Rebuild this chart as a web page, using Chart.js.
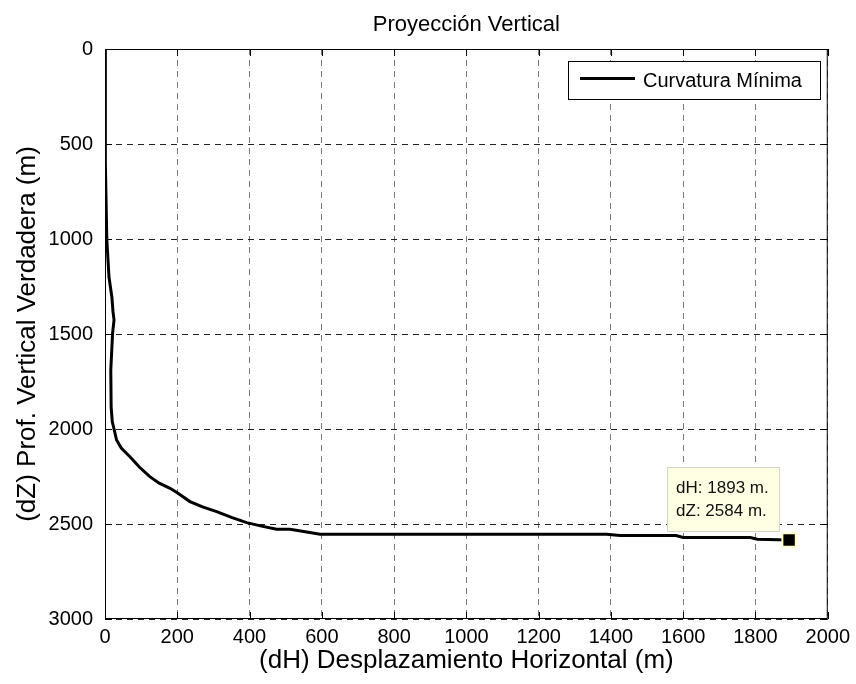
<!DOCTYPE html>
<html lang="es">
<head>
    <meta charset="UTF-8">
    <title>Proyección Vertical</title>
    <script src="https://cdn.jsdelivr.net/npm/chart.js"></script>
    <style>
        html, body { margin: 0; padding: 0; background: #fff; }
        #wrap { width: 856px; height: 684px; position: relative; }
    </style>
</head>
<body>
    <div id="wrap"><canvas id="trayectoria"></canvas></div>

    <script>
        // Datos: desplazamiento horizontal (dH) y profundidad (dZ), en metros
        const dH = [0, 0, 2, 5, 8, 11, 19, 22, 25, 21, 16, 17, 20, 25, 32, 45, 69, 95, 124, 150, 180, 200, 235, 270, 309, 350, 392, 430, 475, 512, 550, 595, 1000, 1388, 1425, 1580, 1600, 1786, 1805, 1893];
        const dZ = [0, 250, 600, 1000, 1100, 1200, 1305, 1380, 1426, 1495, 1690, 1884, 1960, 2000, 2058, 2100, 2146, 2200, 2251, 2285, 2312, 2335, 2382, 2410, 2435, 2465, 2493, 2510, 2528, 2528, 2540, 2554, 2554, 2554, 2561, 2561, 2571, 2571, 2580, 2584];
        const puntoFinal = [1893, 2584];
        const xTicks = [0, 200, 400, 600, 800, 1000, 1200, 1400, 1600, 1800, 2000];
        const yTicks = [0, 500, 1000, 1500, 2000, 2500, 3000];

        const FONT = "'Liberation Sans', Arial, sans-serif";

        // Marco de ejes, marcas interiores, título, leyenda y etiqueta del punto final
        const decoracion = {
            id: 'decoracion',
            afterDatasetsDraw(chart) {
                const { ctx, chartArea: a, scales: { x, y } } = chart;
                ctx.save();

                // caja
                ctx.strokeStyle = '#000';
                ctx.lineWidth = 1;
                ctx.setLineDash([]);
                ctx.strokeRect(a.left + 0.5, a.top + 0.5, a.right - a.left - 1, a.bottom - a.top - 1);

                // marcas hacia dentro
                ctx.beginPath();
                xTicks.forEach(v => {
                    const px = Math.round(x.getPixelForValue(v)) + 0.5;
                    ctx.moveTo(px, a.bottom); ctx.lineTo(px, a.bottom - 7);
                    ctx.moveTo(px, a.top); ctx.lineTo(px, a.top + 7);
                });
                yTicks.forEach(v => {
                    const py = Math.round(y.getPixelForValue(v)) + 0.5;
                    ctx.moveTo(a.left, py); ctx.lineTo(a.left + 7, py);
                    ctx.moveTo(a.right, py); ctx.lineTo(a.right - 7, py);
                });
                ctx.stroke();

                // título
                ctx.fillStyle = '#000';
                ctx.font = '22px ' + FONT;
                ctx.textAlign = 'center';
                ctx.textBaseline = 'alphabetic';
                ctx.fillText('Proyección Vertical', (a.left + a.right) / 2, 30.5);

                // leyenda
                const lx = 568, ly = 61, lw = 252, lh = 38;
                ctx.fillStyle = '#fff';
                ctx.fillRect(lx, ly, lw, lh);
                ctx.strokeRect(lx + 0.5, ly + 0.5, lw, lh);
                ctx.beginPath();
                ctx.lineWidth = 3;
                ctx.moveTo(580, 78.5); ctx.lineTo(635, 78.5);
                ctx.stroke();
                ctx.fillStyle = '#000';
                ctx.font = '20px ' + FONT;
                ctx.textAlign = 'left';
                ctx.fillText(chart.data.datasets[1].label, 643, 86.5);

                // etiqueta del punto final
                const mx = x.getPixelForValue(puntoFinal[0]);
                const my = y.getPixelForValue(puntoFinal[1]);
                const bx = mx - 122, by = my - 73, bw = 112, bh = 64;
                ctx.fillStyle = '#ffffe4';
                ctx.fillRect(bx, by, bw, bh);
                ctx.strokeStyle = '#d4d4c8';
                ctx.lineWidth = 1;
                ctx.strokeRect(bx + 0.5, by + 0.5, bw, bh);
                ctx.fillStyle = '#111';
                ctx.font = '17px ' + FONT;
                ctx.fillText('dH: ' + puntoFinal[0] + ' m.', bx + 9, by + 26);
                ctx.fillText('dZ: ' + puntoFinal[1] + ' m.', bx + 9, by + 49);

                ctx.restore();
            }
        };

        const ctx = document.getElementById('trayectoria').getContext('2d');
        const chart = new Chart(ctx, {
            type: 'scatter',
            data: {
                datasets: [
                    {
                        label: 'Punto final',
                        data: [{ x: puntoFinal[0], y: puntoFinal[1] }],
                        pointStyle: 'rect',
                        pointRadius: 9.5,
                        backgroundColor: '#000',
                        borderColor: '#ffffc8',
                        borderWidth: 2,
                        order: 0
                    },
                    {
                        label: 'Curvatura Mínima',
                        data: dH.map((v, i) => ({ x: v, y: dZ[i] })),
                        showLine: true,
                        borderColor: '#000',
                        borderWidth: 3,
                        pointRadius: 0,
                        tension: 0,
                        order: 1
                    }
                ]
            },
            options: {
                responsive: true,
                maintainAspectRatio: false,
                animation: false,
                layout: { padding: { top: 49, right: 28, left: 0, bottom: 0 } },
                plugins: {
                    legend: { display: false },
                    tooltip: { enabled: false }
                },
                scales: {
                    x: {
                        type: 'linear',
                        min: 0,
                        max: 2000,
                        afterBuildTicks: s => { s.ticks = xTicks.map(v => ({ value: v })); },
                        afterFit: s => { s.height = 65; },
                        ticks: { color: '#000', padding: 6, font: { family: FONT, size: 20 }, callback: v => String(v) },
                        grid: { color: '#7a7a7a', lineWidth: 1, drawTicks: false },
                        border: { display: false, dash: [6, 5] },
                        title: {
                            display: true,
                            text: '(dH) Desplazamiento Horizontal (m)',
                            color: '#000',
                            font: { family: FONT, size: 26 },
                            padding: { top: 0, bottom: 8 }
                        }
                    },
                    y: {
                        type: 'linear',
                        reverse: true,
                        min: 0,
                        max: 3000,
                        afterBuildTicks: s => { s.ticks = yTicks.map(v => ({ value: v })); },
                        afterFit: s => { s.width = 105; },
                        ticks: { color: '#000', padding: 12, font: { family: FONT, size: 20 }, callback: v => String(v) },
                        grid: { color: '#222', lineWidth: 1, drawTicks: false },
                        border: { display: false, dash: [6, 5] },
                        title: {
                            display: true,
                            text: '(dZ) Prof. Vertical Verdadera (m)',
                            color: '#000',
                            font: { family: FONT, size: 26 },
                            padding: { top: 12, bottom: 0 }
                        }
                    }
                }
            },
            plugins: [decoracion]
        });
    </script>
</body>
</html>
